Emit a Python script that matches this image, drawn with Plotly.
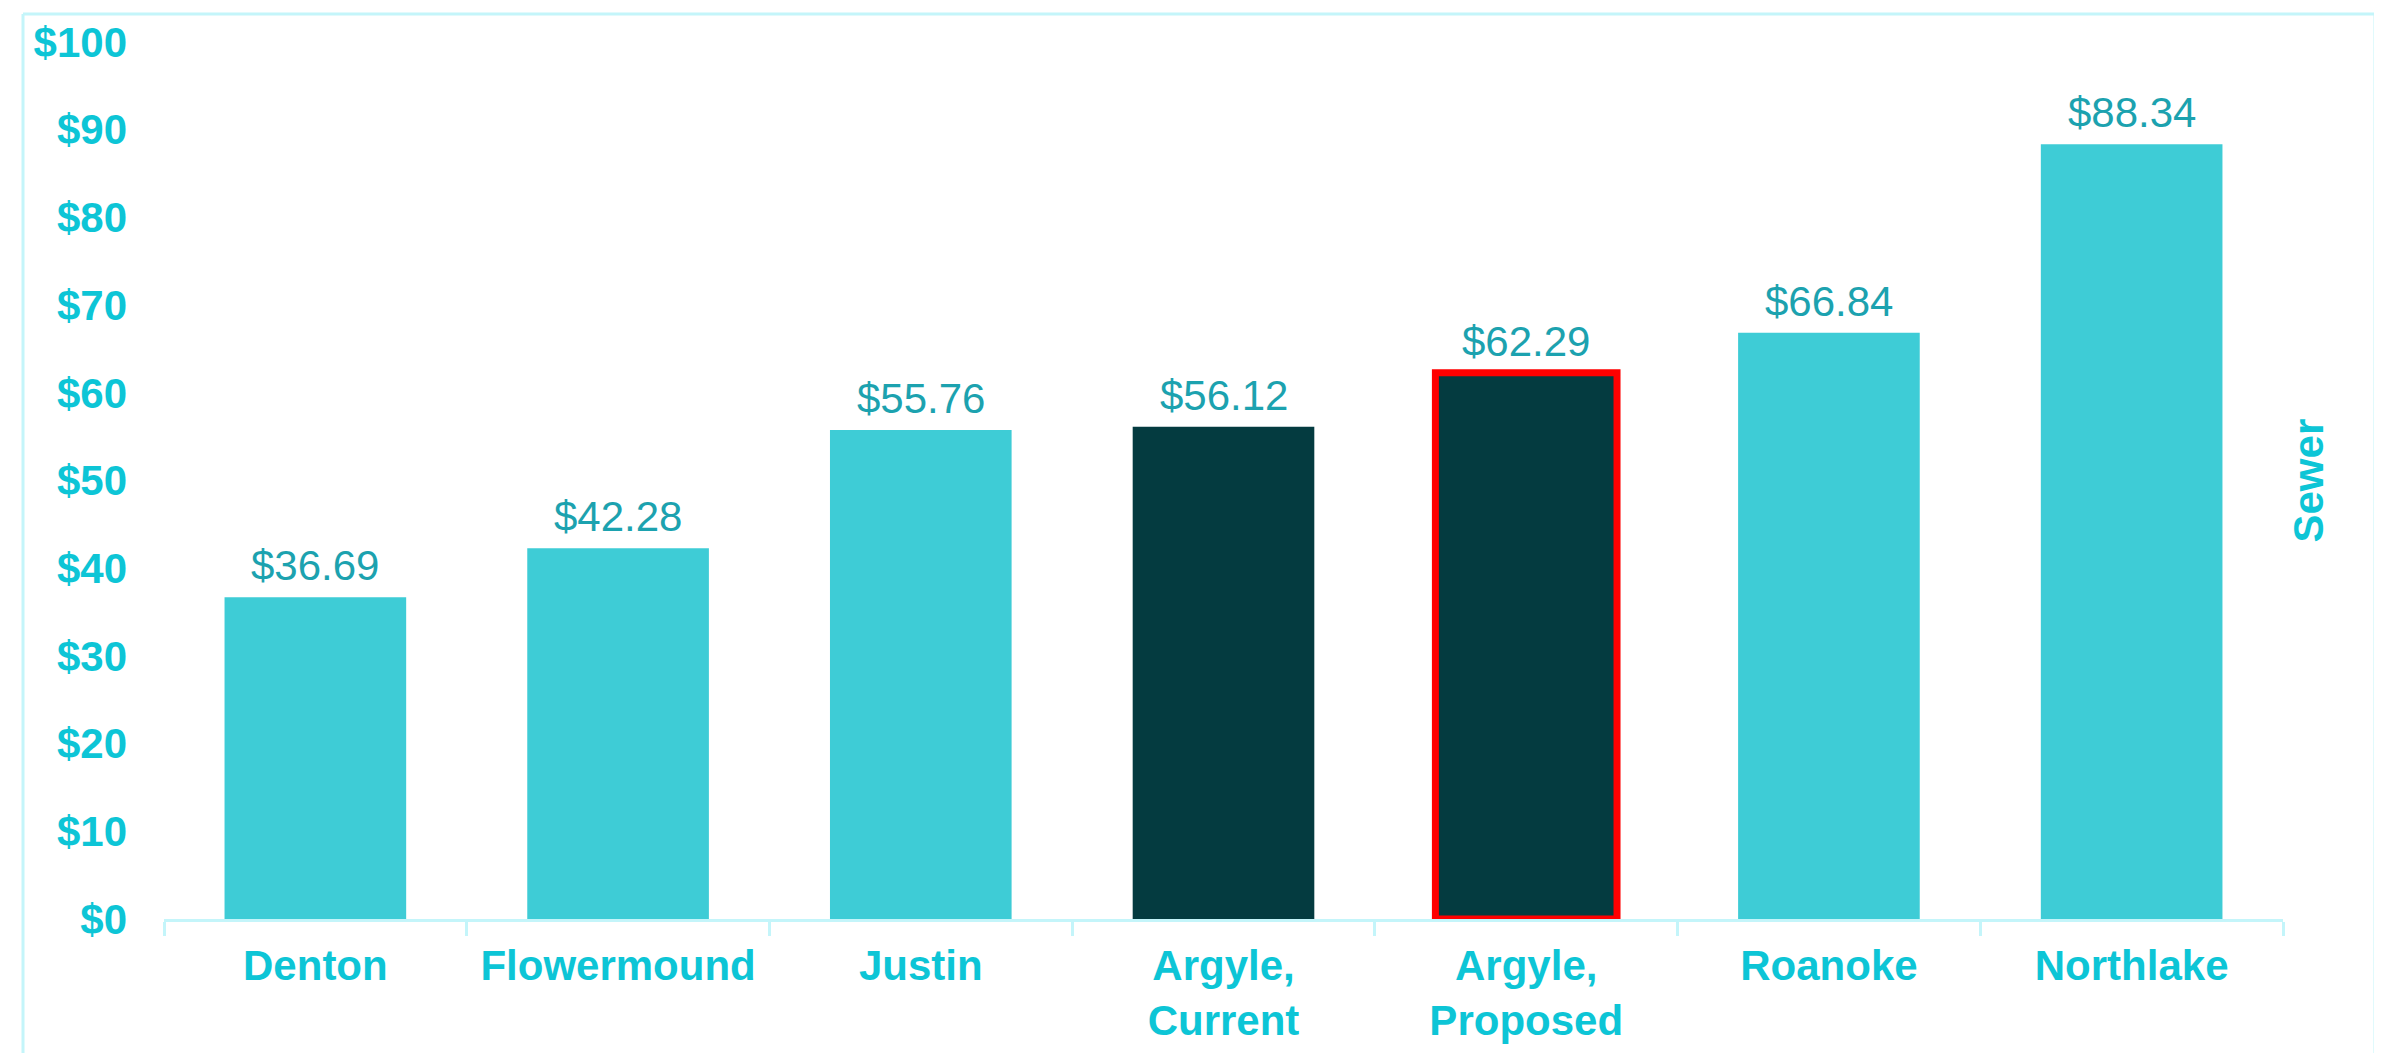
import plotly.graph_objects as go

categories = ["Denton", "Flowermound", "Justin", "Argyle,<br>Current", "Argyle,<br>Proposed", "Roanoke", "Northlake"]
values = [36.69, 42.28, 55.76, 56.12, 62.29, 66.84, 88.34]
bar_colors = ["#3ECCD6", "#3ECCD6", "#3ECCD6", "#043B40", "#043B40", "#3ECCD6", "#3ECCD6"]
line_colors = ["rgba(0,0,0,0)"] * 4 + ["#FF0000"] + ["rgba(0,0,0,0)"] * 2
line_widths = [0, 0, 0, 0, 7, 0, 0]
y_ticks = list(range(0, 101, 10))
y_tick_labels = ["$" + str(v) for v in y_ticks]

LABEL = "#0DC5D6"
VALUE = "#1CA2AF"
AXIS = "#C4F5FA"
FONT = "Liberation Sans, Arial, sans-serif"

W, H = 2382, 1053
L, R, T, B = 156, 107, 34, 142
PX0, PX1 = L, W - R
PY0, PY1 = H - B, T  # bottom, top in pixels

fig = go.Figure()
fig.add_trace(go.Bar(
    x=categories, y=values,
    marker=dict(color=bar_colors, line=dict(color=line_colors, width=line_widths)),
    hoverinfo="skip",
))

for c, v in zip(categories, values):
    fig.add_annotation(x=c, y=v, text="$" + f"{v:.2f}", showarrow=False,
                       yanchor="bottom", yshift=6,
                       font=dict(family=FONT, size=42, color=VALUE))

fig.add_annotation(xref="paper", yref="paper", x=1, y=0.5, xshift=25,
                   text="<b>Sewer</b>", textangle=-90, showarrow=False,
                   xanchor="center", yanchor="middle",
                   font=dict(family=FONT, size=42, color=LABEL))

def px_x(p):
    return (p - PX0) / (PX1 - PX0)

def px_y(p):
    return (PY0 - p) / (PY0 - PY1)

# outer frame (left, top, right)
for x0, y0, x1, y1 in [(15, 6, 15, 1070), (15, 6, 2367, 6), (2367, 6, 2367, 1070)]:
    fig.add_shape(type="line", xref="paper", yref="paper",
                  x0=px_x(x0), x1=px_x(x1), y0=px_y(y0), y1=px_y(y1),
                  line=dict(color=AXIS, width=3))

fig.update_layout(
    width=W, height=H,
    margin=dict(l=L, r=R, t=T, b=B, autoexpand=False),
    paper_bgcolor="white", plot_bgcolor="white",
    bargap=0.4, showlegend=False,
    font=dict(family=FONT),
)
fig.update_xaxes(
    showgrid=False, showline=True, linecolor=AXIS, linewidth=3,
    ticks="outside", tickson="boundaries", ticklen=14, tickcolor=AXIS, tickwidth=3,
    ticklabelstandoff=8,
    tickfont=dict(family=FONT, size=42, color=LABEL),
    tickprefix="<b>", ticksuffix="</b>",
)
fig.update_yaxes(
    range=[0, 100], tickvals=y_ticks, ticktext=["<b>" + t + "</b>" for t in y_tick_labels],
    showgrid=False, showline=False, zeroline=False, ticks="",
    ticklabelstandoff=36,
    tickfont=dict(family=FONT, size=42, color=LABEL),
)

fig.write_html("out.html")
